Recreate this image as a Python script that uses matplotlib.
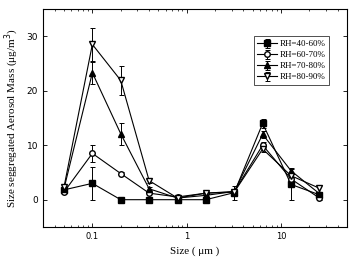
import matplotlib
matplotlib.use('Agg')
import matplotlib.pyplot as plt
import numpy as np

# particle size (um)
size = [0.05, 0.1, 0.2, 0.4, 0.8, 1.6, 3.2, 6.4, 12.8, 25.6]

rh40 = [1.8, 3.0, 0.0, 0.0, 0.0, 0.0, 1.3, 14.0, 2.8, 0.9]
rh40_err = [0.2, 3.0, 0.1, 0.1, 0.1, 0.1, 1.3, 0.8, 2.8, 0.3]
rh60 = [1.4, 8.5, 4.8, 1.2, 0.5, 1.2, 1.5, 10.0, 3.8, 0.3]
rh60_err = [0.2, 1.6, 0.3, 0.2, 0.1, 0.2, 0.3, 0.6, 0.4, 0.3]
rh70 = [2.0, 23.3, 12.1, 2.0, 0.3, 0.8, 1.5, 12.0, 5.3, 1.1]
rh70_err = [0.2, 2.0, 2.0, 0.3, 0.1, 0.2, 0.3, 0.6, 0.5, 0.3]
rh80 = [2.3, 28.5, 21.9, 3.5, 0.3, 1.2, 1.4, 9.3, 4.4, 2.1]
rh80_err = [0.2, 3.0, 2.7, 0.4, 0.1, 0.2, 0.3, 0.6, 0.5, 0.6]

labels = ['RH=40-60%', 'RH=60-70%', 'RH=70-80%', 'RH=80-90%']

plt.rcParams['font.family'] = ['Liberation Serif', 'DejaVu Serif']

fig = plt.figure(figsize=(3.5, 2.57), dpi=100)
ax = fig.add_axes([0.123, 0.117, 0.868, 0.848])

series = [
    (rh40, rh40_err, 's', 'black'),
    (rh60, rh60_err, 'o', 'white'),
    (rh70, rh70_err, '^', 'black'),
    (rh80, rh80_err, 'v', 'white'),
]
for (y, e, m, fc), lab in zip(series, labels):
    ax.errorbar(size, y, yerr=e, marker=m, color='black', mfc=fc, mec='black',
                ms=4, lw=0.8, elinewidth=0.7, capsize=1.8, capthick=0.7, label=lab)

ax.set_xscale('log')
ax.set_xlim(0.03, 50)
ax.set_ylim(-5, 35)
ax.set_yticks([0, 10, 20, 30])
ax.set_xticks([0.1, 1, 10])
ax.set_xticklabels(['0.1', '1', '10'], family='DejaVu Sans', fontsize=6)
ax.set_yticklabels(['0', '10', '20', '30'], family='DejaVu Sans', fontsize=6.5)
ax.tick_params(direction='in', top=True, right=True, length=3, width=0.6)
ax.tick_params(which='minor', direction='in', top=True, right=True, length=1.5, width=0.5)
for s in ax.spines.values():
    s.set_linewidth(0.8)

ax.set_xlabel('Size ( μm )', fontsize=8)
ax.set_ylabel('Size seggregated Aerosol Mass (μg/m$^3$)', fontsize=8)

leg = ax.legend(loc='upper right', bbox_to_anchor=(0.957, 0.895), fontsize=6.5,
                handlelength=2.2, handletextpad=0.3, labelspacing=0.3,
                borderpad=0.4, fancybox=False, edgecolor='black')
leg.get_frame().set_linewidth(0.6)

fig.savefig('out.png', dpi=100)
